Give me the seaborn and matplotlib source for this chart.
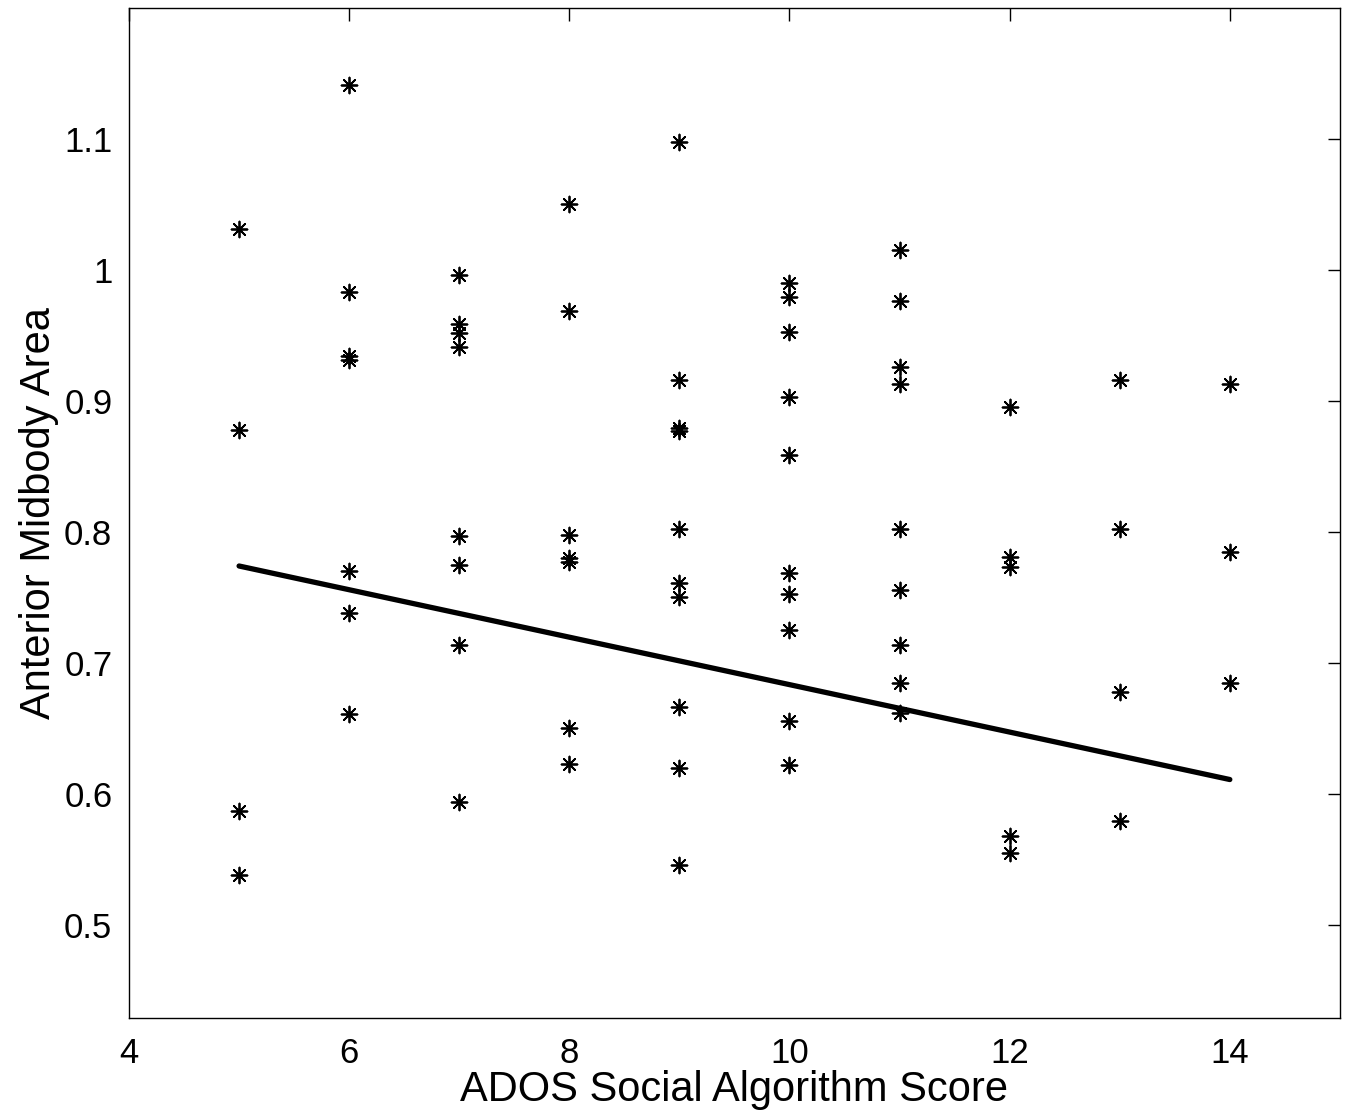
import matplotlib
matplotlib.use("Agg")
import matplotlib.pyplot as plt
import seaborn as sns
import pandas as pd

# ADOS social algorithm score (x) and anterior midbody area (y)
ados_score = (
    [5, 5, 5, 5]
    + [6, 6, 6, 6, 6, 6, 6]
    + [7, 7, 7, 7, 7, 7, 7, 7]
    + [8, 8, 8, 8, 8, 8, 8]
    + [9, 9, 9, 9, 9, 9, 9, 9, 9, 9]
    + [10, 10, 10, 10, 10, 10, 10, 10, 10, 10]
    + [11, 11, 11, 11, 11, 11, 11, 11, 11]
    + [12, 12, 12, 12, 12]
    + [13, 13, 13, 13]
    + [14, 14, 14]
)
midbody_area = (
    [1.031, 0.878, 0.587, 0.538]
    + [1.141, 0.983, 0.934, 0.931, 0.770, 0.738, 0.661]
    + [0.996, 0.959, 0.952, 0.941, 0.797, 0.775, 0.714, 0.594]
    + [1.050, 0.969, 0.798, 0.780, 0.777, 0.650, 0.623]
    + [1.098, 0.916, 0.879, 0.877, 0.802, 0.761, 0.750, 0.666, 0.620, 0.546]
    + [0.990, 0.979, 0.953, 0.903, 0.859, 0.769, 0.753, 0.725, 0.656, 0.622]
    + [1.015, 0.976, 0.926, 0.913, 0.802, 0.756, 0.714, 0.685, 0.662]
    + [0.895, 0.781, 0.773, 0.568, 0.555]
    + [0.916, 0.802, 0.678, 0.579]
    + [0.913, 0.785, 0.685]
)

# fitted regression line endpoints
fit_x = [5, 14]
fit_y = [0.774, 0.611]

x_ticks = [4, 6, 8, 10, 12, 14]
y_ticks = [0.5, 0.6, 0.7, 0.8, 0.9, 1.0, 1.1]
y_tick_labels = ["0.5", "0.6", "0.7", "0.8", "0.9", "1", "1.1"]

sns.set_style("white")
plt.rcParams["font.family"] = ["Liberation Sans", "DejaVu Sans"]

fig = plt.figure(figsize=(13.48, 11.19), dpi=100)
ax = fig.add_axes([0.0957, 0.0903, 0.8983, 0.9026])

df = pd.DataFrame({"x": ados_score, "y": midbody_area})
sns.scatterplot(data=df, x="x", y="y", ax=ax, marker=(8, 2, 0), s=130,
                color="black", edgecolor="black", linewidth=1.3, zorder=3)
sns.lineplot(x=fit_x, y=fit_y, ax=ax, color="black", linewidth=3.8, zorder=4)

ax.set_xlim(4, 15)
ax.set_ylim(0.429, 1.2)
ax.set_xticks(x_ticks)
ax.set_xticklabels([str(t) for t in x_ticks])
ax.set_yticks(y_ticks)
ax.set_yticklabels(y_tick_labels)
ax.tick_params(direction="in", top=True, right=True, length=9, width=1,
               labelsize=25, colors="black")
ax.tick_params(axis="x", pad=14)
ax.tick_params(axis="y", pad=12)
for sp in ax.spines.values():
    sp.set_visible(True)
    sp.set_color("black")
    sp.set_linewidth(1.0)

ax.set_xlabel("ADOS Social Algorithm Score", fontsize=30, labelpad=0,
              color="black")
ax.set_ylabel("Anterior Midbody Area", fontsize=30, labelpad=4,
              color="black")

fig.savefig("out.png", dpi=100, facecolor="white")
